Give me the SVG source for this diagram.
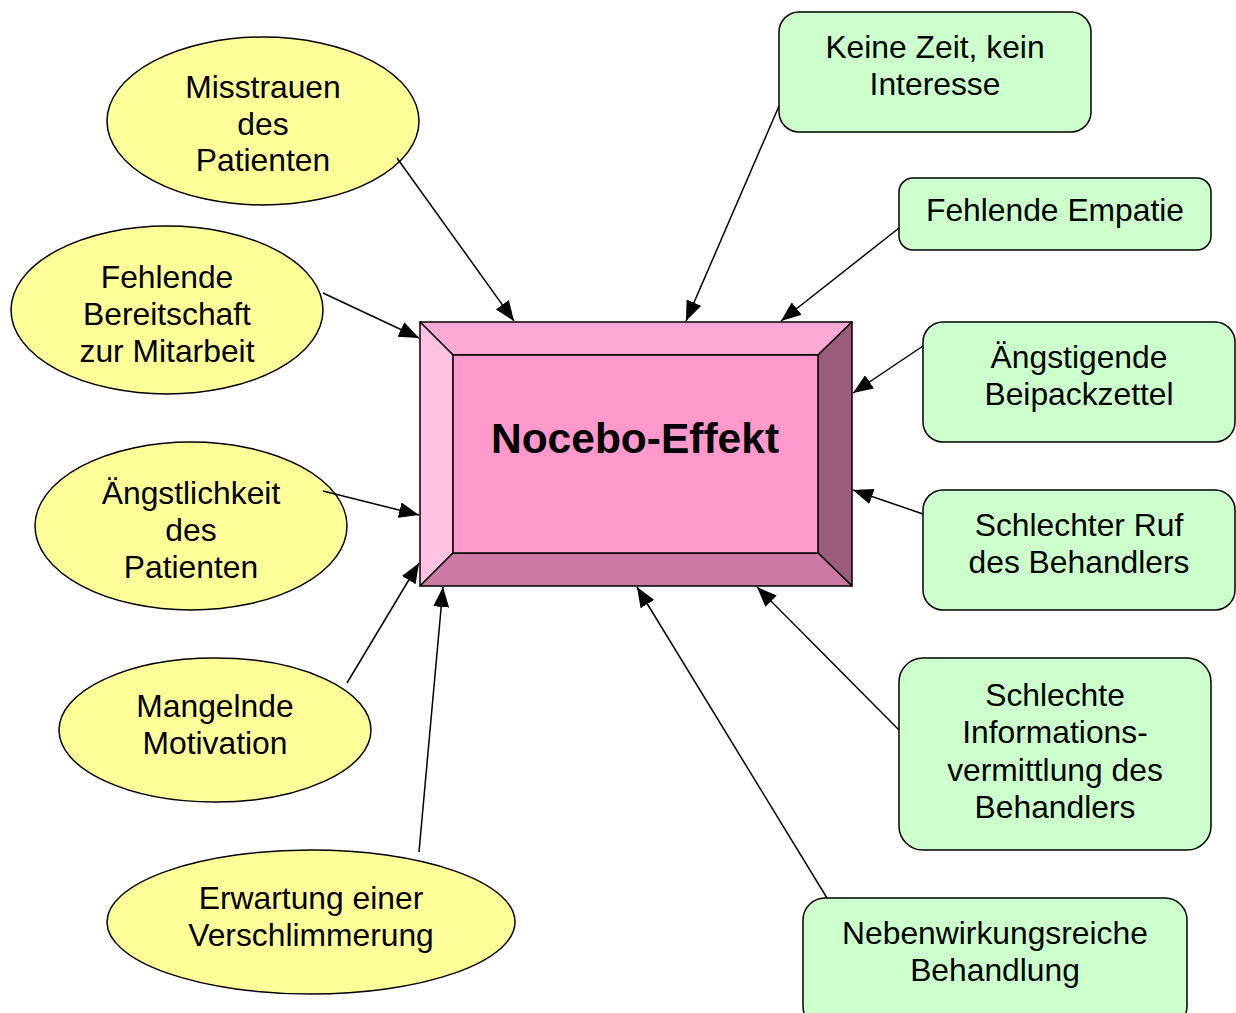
<svg xmlns="http://www.w3.org/2000/svg" width="1236" height="1013" viewBox="0 0 1236 1013">
<style>
.ell{fill:#FFFF99;stroke:#000;stroke-width:1.5}
.box{fill:#CCFFCC;stroke:#000;stroke-width:1.5}
.t{font-family:"Liberation Sans",Arial,sans-serif;font-size:31.8px;fill:#000;text-anchor:middle;dominant-baseline:central}
.c{stroke:#000;stroke-width:1.5;fill:none;marker-end:url(#ah)}
.bv{stroke:#000;stroke-width:1.5;stroke-linejoin:round}
</style>
<defs>
<marker id="ah" markerUnits="userSpaceOnUse" markerWidth="22" markerHeight="16" refX="20" refY="8" orient="auto">
<path d="M0,0 L20,8 L0,16 Z" fill="#000"/>
</marker>
</defs>
<rect width="1236" height="1013" fill="#fff"/>
<g id="nocebo">
<polygon class="bv" points="420,322 852,322 818,355 453,355" fill="#FFAAD4"/>
<polygon class="bv" points="420,322 453,355 453,553 420,586" fill="#FFC2E0"/>
<polygon class="bv" points="852,322 852,586 818,553 818,355" fill="#9C5C7B"/>
<polygon class="bv" points="420,586 453,553 818,553 852,586" fill="#CC7AA3"/>
<rect class="bv" x="453" y="355" width="365" height="198" fill="#FF99CC"/>
<text x="635" y="438" class="t" style="font-size:42.5px;font-weight:bold">Nocebo-Effekt</text>
</g>
<g id="misstrauen">
<ellipse class="ell" cx="263" cy="121" rx="156" ry="84"/>
<text class="t" x="263" y="87">Misstrauen</text>
<text class="t" x="263" y="124">des</text>
<text class="t" x="263" y="160">Patienten</text>
</g>
<g id="bereitschaft">
<ellipse class="ell" cx="167" cy="310" rx="156" ry="84"/>
<text class="t" x="167" y="277">Fehlende</text>
<text class="t" x="167" y="314">Bereitschaft</text>
<text class="t" x="167" y="351">zur Mitarbeit</text>
</g>
<g id="aengstlichkeit">
<ellipse class="ell" cx="191" cy="526" rx="156" ry="84"/>
<text class="t" x="191" y="493">Ängstlichkeit</text>
<text class="t" x="191" y="530">des</text>
<text class="t" x="191" y="567">Patienten</text>
</g>
<g id="motivation">
<ellipse class="ell" cx="215" cy="730" rx="156" ry="72"/>
<text class="t" x="215" y="706">Mangelnde</text>
<text class="t" x="215" y="743">Motivation</text>
</g>
<g id="erwartung">
<ellipse class="ell" cx="311" cy="922" rx="204" ry="72"/>
<text class="t" x="311" y="898">Erwartung einer</text>
<text class="t" x="311" y="935">Verschlimmerung</text>
</g>
<g id="keinezeit">
<rect class="box" x="779" y="12" width="312" height="120" rx="20"/>
<text class="t" x="935" y="47">Keine Zeit, kein</text>
<text class="t" x="935" y="84">Interesse</text>
</g>
<g id="empatie">
<rect class="box" x="899" y="178" width="312" height="72" rx="14"/>
<text class="t" x="1055" y="210">Fehlende Empatie</text>
</g>
<g id="beipackzettel">
<rect class="box" x="923" y="322" width="312" height="120" rx="20"/>
<text class="t" x="1079" y="357">Ängstigende</text>
<text class="t" x="1079" y="394">Beipackzettel</text>
</g>
<g id="ruf">
<rect class="box" x="923" y="490" width="312" height="120" rx="20"/>
<text class="t" x="1079" y="525">Schlechter Ruf</text>
<text class="t" x="1079" y="562">des Behandlers</text>
</g>
<g id="information">
<rect class="box" x="899" y="658" width="312" height="192" rx="24"/>
<text class="t" x="1055" y="695">Schlechte</text>
<text class="t" x="1055" y="732">Informations-</text>
<text class="t" x="1055" y="770">vermittlung des</text>
<text class="t" x="1055" y="807">Behandlers</text>
</g>
<g id="nebenwirkung">
<rect class="box" x="803" y="898" width="384" height="130" rx="22"/>
<text class="t" x="995" y="933">Nebenwirkungsreiche</text>
<text class="t" x="995" y="970">Behandlung</text>
</g>
<g id="connectors">
<line class="c" x1="397" y1="158" x2="514" y2="321"/>
<line class="c" x1="323" y1="293" x2="419" y2="338"/>
<line class="c" x1="323" y1="491" x2="419" y2="515"/>
<line class="c" x1="347" y1="683" x2="419" y2="563"/>
<line class="c" x1="419" y1="852" x2="443" y2="587"/>
<line class="c" x1="779" y1="106" x2="686" y2="321"/>
<line class="c" x1="899" y1="228" x2="781" y2="321"/>
<line class="c" x1="923" y1="346" x2="853" y2="393"/>
<line class="c" x1="923" y1="514" x2="853" y2="490"/>
<line class="c" x1="899" y1="730" x2="757" y2="587"/>
<line class="c" x1="827" y1="898" x2="637" y2="587"/>
</g>
</svg>
